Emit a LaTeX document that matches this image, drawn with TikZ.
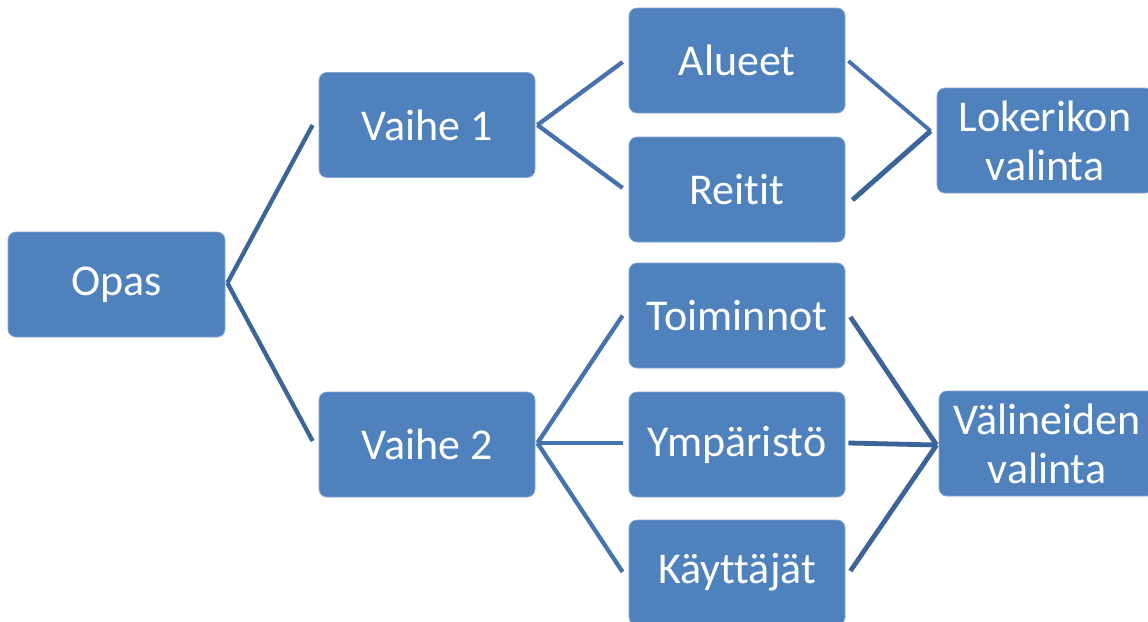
\documentclass[tikz,border=0pt]{standalone}
\usepackage{fontspec}
\setmainfont[Ligatures=NoCommon]{Carlito}
\definecolor{boxblue}{HTML}{4F81BD}
\definecolor{linea}{HTML}{4672AD}
\definecolor{lineb}{HTML}{3B6498}
\tikzset{
  bx/.style={rectangle, rounded corners=8pt, fill=boxblue, draw=boxblue!70!white, line width=0.8pt,
    minimum width=216pt, minimum height=105pt, inner sep=0pt, text=white, align=center,
    font=\fontsize{44}{49}\selectfont},
  conA/.style={draw=linea, line width=4.3pt},
  conB/.style={draw=lineb, line width=4.3pt},
}
\begin{document}
\begin{tikzpicture}[x=1pt,y=-1pt]
\path[use as bounding box] (0,0) rectangle (1148,621);
\clip (0,0) rectangle (1148,621);
\node[bx, minimum width=217pt] (opas) at (116.5,284.5) {Opas};
\node[bx] (v1) at (427,125) {Vaihe 1};
\node[bx] (v2) at (427,444.5) {Vaihe 2};
\node[bx] (alu) at (737,60.5) {Alueet};
\node[bx] (rei) at (737,189.5) {Reitit};
\node[bx] (toi) at (737,315.5) {Toiminnot};
\node[bx] (ymp) at (737,444.5) {Ympäristö};
\node[bx] (kay) at (737,572.5) {Käyttäjät};
\node[bx] (lok) at (1045,140.5) {Lokerikon\\valinta};
\node[bx] (val) at (1047,443.5) {Välineiden\\valinta};

\draw[conB] ([shift={(2,-1.5)}]opas.east) -- ([xshift=-6pt]v1.west);
\draw[conB] ([shift={(2,-1.5)}]opas.east) -- ([shift={(-6,-3.5)}]v2.west);

\draw[conA] ([xshift=2pt]v1.east) -- ([shift={(-6,1.5)}]alu.west);
\draw[conA] ([xshift=2pt]v1.east) -- ([shift={(-6,-1.5)}]rei.west);

\draw[conA] ([shift={(2,-1.5)}]v2.east) -- ([shift={(-6,0)}]toi.west);
\draw[conA] ([shift={(2,-1.5)}]v2.east) -- ([shift={(-6,-1.5)}]ymp.west);
\draw[conA] ([shift={(2,-1.5)}]v2.east) -- ([shift={(-6,-0.5)}]kay.west);

\coordinate (lokin) at ([shift={(-6,-9.5)}]lok.west);
\draw[conA, line width=3.8pt] ([shift={(3,0.5)}]alu.east) -- (lokin);
\draw[conB, line width=5pt] ([shift={(7,10.5)}]rei.east) -- (lokin);

\coordinate (valin) at ([shift={(-2,1.5)}]val.west);
\draw[conB, line width=4.8pt] ([shift={(5,1.5)}]toi.east) -- (valin);
\draw[conB, line width=4.8pt] ([shift={(3,-1.5)}]ymp.east) -- (valin);
\draw[conB, line width=4.8pt] ([shift={(5,-1.5)}]kay.east) -- (valin);
\end{tikzpicture}
\end{document}
